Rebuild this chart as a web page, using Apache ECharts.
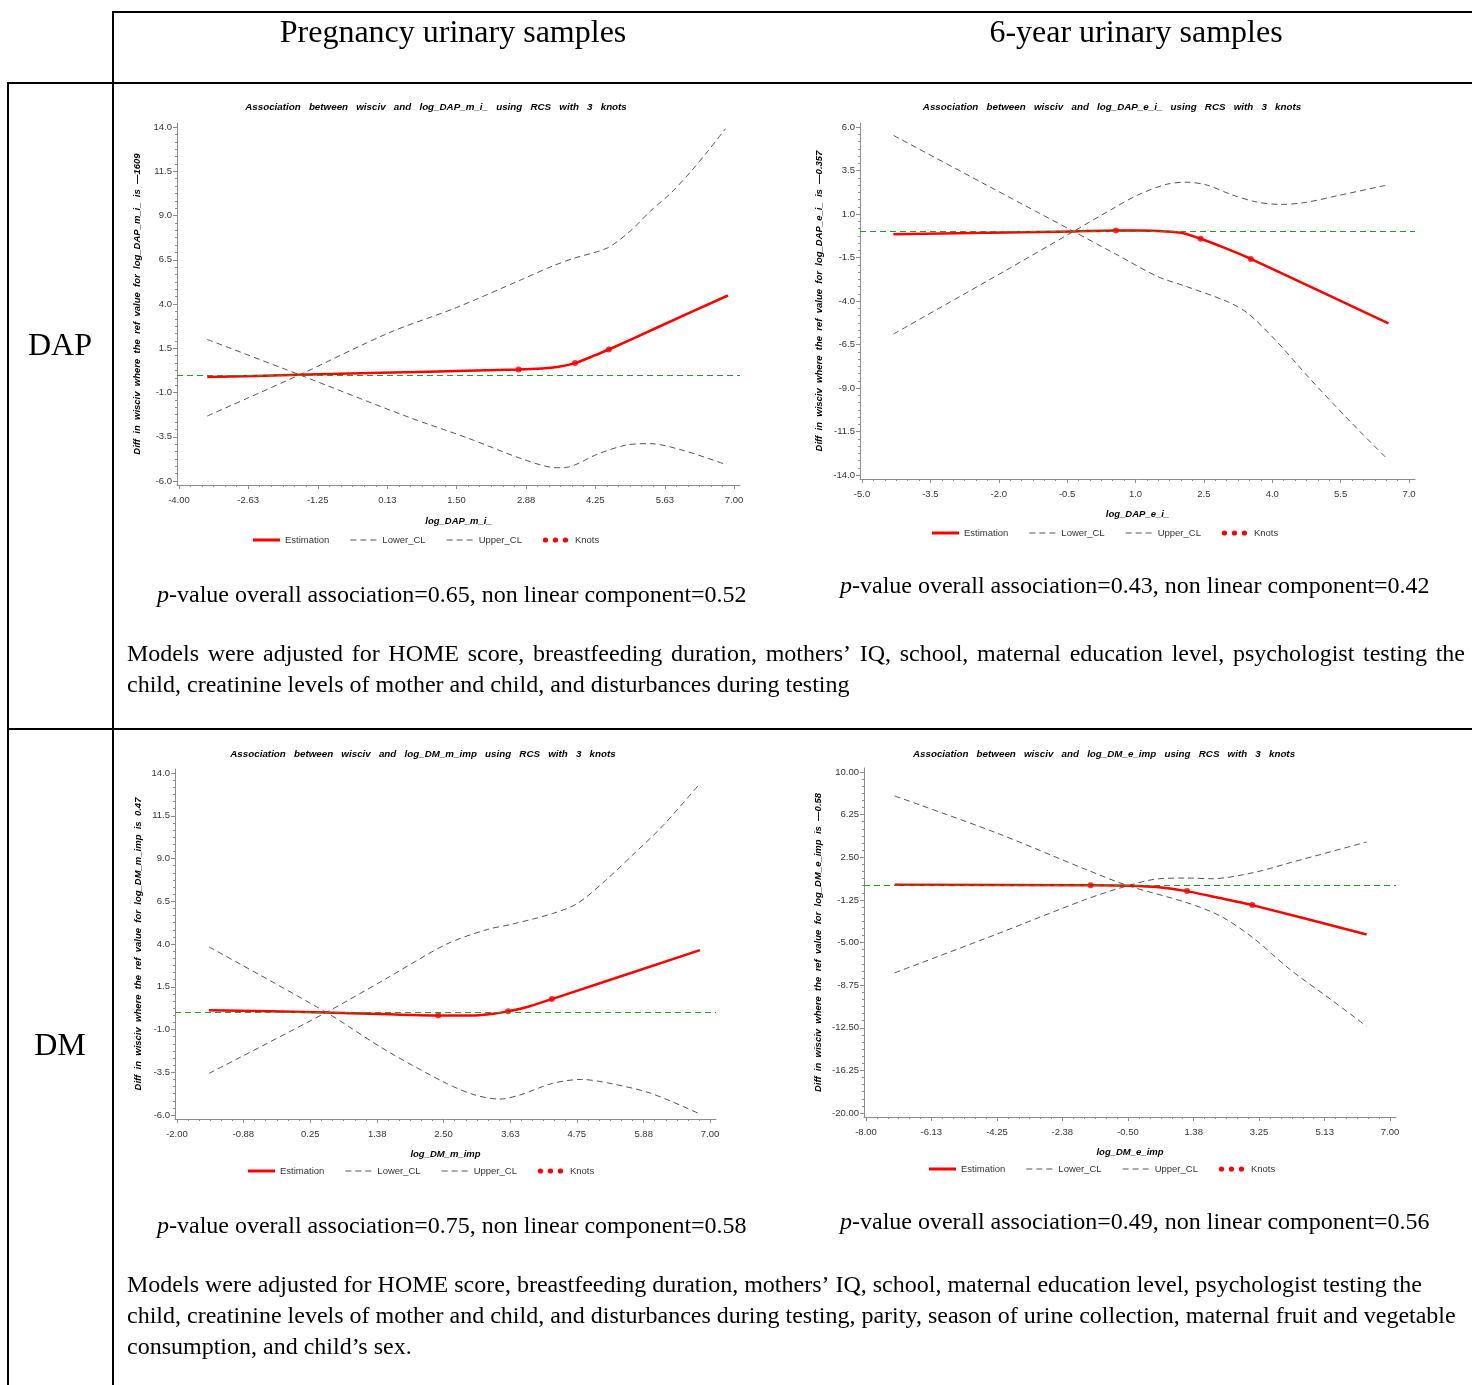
<!DOCTYPE html>
<html>
<head>
<meta charset="utf-8">
<script src="https://cdn.jsdelivr.net/npm/echarts@6/dist/echarts.min.js"></script>
<style>
html, body { margin: 0; padding: 0; background: #fff; }
#main { width: 1472px; height: 1385px; }
</style>
</head>
<body>
<div id="main"></div>
<script>
// ---- values ----

// DAP, pregnancy urinary samples (log_DAP_m_i_)
const dapmEstX = [-3.44, -1.61, 0, 1.5, 2.73, 3.2, 3.5, 3.85, 4.2, 4.52, 5.5, 6.88];
const dapmEstY = [-0.13, 0, 0.11, 0.21, 0.30, 0.36, 0.44, 0.66, 1.05, 1.43, 2.70, 4.48];
const dapmLoX = [-3.44, -1.61, 0.49, 1.70, 2.83, 3.48, 3.72, 4.29, 4.86, 5.34, 5.99, 6.83];
const dapmLoY = [2.0, 0, -2.33, -3.55, -4.78, -5.25, -5.21, -4.49, -3.97, -3.89, -4.27, -5.06];
const dapmUpX = [-3.44, -1.61, 0.16, 1.5, 2.79, 3.40, 3.81, 4.49, 4.94, 5.34, 5.75, 6.15, 6.48, 6.83];
const dapmUpY = [-2.33, 0, 2.37, 3.8, 5.38, 6.14, 6.57, 7.17, 8.11, 9.24, 10.27, 11.5, 12.63, 13.9];
const dapmKnotX = [2.73, 3.85, 4.52];
const dapmKnotY = [0.30, 0.66, 1.43];
const dapmXTicks = ['-4.00', '-2.63', '-1.25', '0.13', '1.50', '2.88', '4.25', '5.63', '7.00'];
const dapmYTicks = ['-6.0', '-3.5', '-1.0', '1.5', '4.0', '6.5', '9.0', '11.5', '14.0'];

// DAP, 6-year urinary samples (log_DAP_e_i_)
const dapeEstX = [-4.31, -0.36, 0.57, 1.04, 1.67, 2.03, 2.43, 2.93, 3.53, 6.55];
const dapeEstY = [-0.17, 0, 0.05, 0.05, 0.0, -0.09, -0.42, -0.92, -1.58, -5.29];
const dapeLoX = [-4.31, -2.36, -0.36, 0.60, 1.49, 2.12, 3.01, 3.46, 4.09, 4.81, 5.70, 6.51];
const dapeLoY = [5.52, 2.79, 0, -1.35, -2.6, -3.17, -4.03, -4.7, -6.3, -8.42, -10.9, -13.04];
const dapeUpX = [-4.31, -1.91, -0.36, 0.51, 1.04, 1.67, 2.12, 2.57, 3.10, 3.64, 4.18, 4.72, 5.43, 6.51];
const dapeUpY = [-5.9, -2.34, 0, 1.32, 2.08, 2.70, 2.83, 2.66, 2.12, 1.70, 1.55, 1.66, 2.05, 2.66];
const dapeKnotX = [0.57, 2.43, 3.53];
const dapeKnotY = [0.05, -0.42, -1.58];
const dapeXTicks = ['-5.0', '-3.5', '-2.0', '-0.5', '1.0', '2.5', '4.0', '5.5', '7.0'];
const dapeYTicks = ['-14.0', '-11.5', '-9.0', '-6.5', '-4.0', '-1.5', '1.0', '3.5', '6.0'];

// DM, pregnancy urinary samples (log_DM_m_imp)
const dmmEstX = [-1.46, 0.52, 2.41, 3.03, 3.31, 3.59, 3.93, 4.33, 6.83];
const dmmEstY = [0.13, 0, -0.18, -0.18, -0.10, 0.06, 0.33, 0.78, 3.64];
const dmmLoX = [-1.46, 0.52, 1.52, 2.55, 3.03, 3.45, 3.79, 4.34, 4.83, 5.31, 6.0, 6.83];
const dmmLoY = [3.83, 0, -2.2, -4.15, -4.83, -5.07, -4.83, -4.15, -3.92, -4.15, -4.73, -5.94];
const dmmUpX = [-1.46, 0.52, 1.52, 2.55, 3.24, 3.66, 4.34, 4.76, 5.24, 5.72, 6.21, 6.83];
const dmmUpY = [-3.57, 0, 1.95, 3.99, 4.85, 5.16, 5.78, 6.37, 7.73, 9.29, 10.94, 13.38];
const dmmKnotX = [2.41, 3.59, 4.33];
const dmmKnotY = [-0.18, 0.06, 0.78];
const dmmXTicks = ['-2.00', '-0.88', '0.25', '1.38', '2.50', '3.63', '4.75', '5.88', '7.00'];
const dmmYTicks = ['-6.0', '-3.5', '-1.0', '1.5', '4.0', '6.5', '9.0', '11.5', '14.0'];

// DM, 6-year urinary samples (log_DM_e_imp)
const dmeEstX = [-7.18, -1.57, -0.48, 0.39, 1.19, 2.09, 3.06, 6.33];
const dmeEstY = [0.08, 0.03, 0, -0.13, -0.48, -1.07, -1.71, -4.29];
const dmeLoX = [-7.18, -4.28, -1.71, -0.5, 1.19, 2.15, 3.08, 4.14, 5.31, 6.33];
const dmeLoY = [7.89, 4.66, 1.43, 0, -1.5, -2.68, -4.59, -7.38, -10.02, -12.37];
const dmeUpX = [-7.18, -4.28, -1.71, -0.5, 0.39, 1.21, 1.91, 3.08, 4.14, 6.33];
const dmeUpY = [-7.67, -4.29, -1.21, 0, 0.61, 0.67, 0.61, 1.14, 2.02, 3.84];
const dmeKnotX = [-1.57, 1.19, 3.06];
const dmeKnotY = [0.03, -0.48, -1.71];
const dmeXTicks = ['-8.00', '-6.13', '-4.25', '-2.38', '-0.50', '1.38', '3.25', '5.13', '7.00'];
const dmeYTicks = ['-20.00', '-16.25', '-12.50', '-8.75', '-5.00', '-1.25', '2.50', '6.25', '10.00'];

const legendNames = ['Estimation', 'Lower_CL', 'Upper_CL', 'Knots'];

// ---- panel text ----
const panels = [
  {
    est: [dapmEstX, dapmEstY], lo: [dapmLoX, dapmLoY], up: [dapmUpX, dapmUpY], knots: [dapmKnotX, dapmKnotY],
    xTicks: dapmXTicks, yTicks: dapmYTicks,
    title: 'Association between wisciv and log_DAP_m_i_ using RCS with 3 knots',
    xName: 'log_DAP_m_i_', yName: 'Diff in wisciv where the ref value for log_DAP_m_i_ is —1609'
  },
  {
    est: [dapeEstX, dapeEstY], lo: [dapeLoX, dapeLoY], up: [dapeUpX, dapeUpY], knots: [dapeKnotX, dapeKnotY],
    xTicks: dapeXTicks, yTicks: dapeYTicks,
    title: 'Association between wisciv and log_DAP_e_i_ using RCS with 3 knots',
    xName: 'log_DAP_e_i_', yName: 'Diff in wisciv where the ref value for log_DAP_e_i_ is —0.357'
  },
  {
    est: [dmmEstX, dmmEstY], lo: [dmmLoX, dmmLoY], up: [dmmUpX, dmmUpY], knots: [dmmKnotX, dmmKnotY],
    xTicks: dmmXTicks, yTicks: dmmYTicks,
    title: 'Association between wisciv and log_DM_m_imp using RCS with 3 knots',
    xName: 'log_DM_m_imp', yName: 'Diff in wisciv where the ref value for log_DM_m_imp is 0.47'
  },
  {
    est: [dmeEstX, dmeEstY], lo: [dmeLoX, dmeLoY], up: [dmeUpX, dmeUpY], knots: [dmeKnotX, dmeKnotY],
    xTicks: dmeXTicks, yTicks: dmeYTicks,
    title: 'Association between wisciv and log_DM_e_imp using RCS with 3 knots',
    xName: 'log_DM_e_imp', yName: 'Diff in wisciv where the ref value for log_DM_e_imp is —0.58'
  }
];

// pixel positions of first/last tick of every panel, plus name gaps
const layout = [
  { x0: 179, x1: 734, y0: 127, y1: 481, yGap: 35, xGap: 31, title: [436, 107], legend: [253, 540] },
  { x0: 862, x1: 1409, y0: 127, y1: 475, yGap: 36, xGap: 30, title: [1112, 107], legend: [932, 533] },
  { x0: 177, x1: 710, y0: 773, y1: 1115, yGap: 32, xGap: 30, title: [423, 754], legend: [248, 1171] },
  { x0: 866, x1: 1390, y0: 772, y1: 1113, yGap: 41, xGap: 30, title: [1104, 754], legend: [929, 1169] }
];

const SANS = 'Liberation Sans';
const SERIF = '"Liberation Serif"';
const AXIS_GRAY = '#8c8c8c';
const CL_GRAY = '#555';
const RED = '#ff0000';
const GREEN = '#249a24';
const LEGEND_FONT = '9.5px "Liberation Sans"';

const zip = (xs, ys) => xs.map((x, i) => [x, ys[i]]);
const spaced = (s, n) => s.split(' ').join(' '.repeat(n));

function minorTicks(vals, n) {
  const out = [];
  for (let i = 0; i < vals.length - 1; i++) {
    for (let k = 1; k < n; k++) out.push(vals[i] + (vals[i + 1] - vals[i]) * k / n);
  }
  return out;
}

function labelFmt(ticks) {
  const nums = ticks.map(Number);
  return v => {
    const i = nums.findIndex(n => Math.abs(n - v) < 1e-6);
    return i < 0 ? '' : ticks[i];
  };
}

const measure = document.createElement('canvas').getContext('2d');
function textWidth(s, font) {
  measure.font = font;
  return measure.measureText(s).width;
}

// SAS-style legend row: solid red line, two dashed lines, three dots
function legendRow(x, y) {
  const els = [];
  legendNames.forEach((name, k) => {
    if (k === 0) {
      els.push({ type: 'line', shape: { x1: x, y1: y, x2: x + 27, y2: y }, style: { stroke: RED, lineWidth: 3 } });
    } else if (k < 3) {
      els.push({ type: 'line', shape: { x1: x, y1: y, x2: x + 27, y2: y }, style: { stroke: CL_GRAY, lineWidth: 1, lineDash: [6, 4] } });
    } else {
      [2.5, 12.5, 22.5].forEach(dx => els.push({
        type: 'circle', shape: { cx: x + dx, cy: y, r: 2.6 }, style: { fill: RED }
      }));
    }
    els.push({
      type: 'text', x: x + 32, y,
      style: { text: name, font: LEGEND_FONT, fill: '#333', verticalAlign: 'middle' }
    });
    x += 32 + textWidth(name, LEGEND_FONT) + 21;
  });
  return els;
}

const grid = [], xAxis = [], yAxis = [], series = [], graphic = [];

panels.forEach((p, i) => {
  const L = layout[i];
  const xv = p.xTicks.map(Number);
  const yv = p.yTicks.map(Number);
  const ppx = (L.x1 - L.x0) / (xv[xv.length - 1] - xv[0]);
  const ppy = (L.y1 - L.y0) / (yv[yv.length - 1] - yv[0]);
  const padL = 2, padR = 6, padT = 4, padB = 4;

  grid.push({
    left: L.x0 - padL, top: L.y0 - padT,
    width: (L.x1 + padR) - (L.x0 - padL), height: (L.y1 + padB) - (L.y0 - padT)
  });

  const xMin = xv[0] - padL / ppx, xMax = xv[xv.length - 1] + padR / ppx;
  const yMin = yv[0] - padB / ppy, yMax = yv[yv.length - 1] + padT / ppy;
  const lblStyle = { fontSize: 9.5, color: '#333', fontFamily: SANS };
  const nameStyle = { fontSize: 9.5, color: '#000', fontFamily: SANS, fontWeight: 'bold', fontStyle: 'italic' };

  xAxis.push({
    type: 'value', gridIndex: i, position: 'bottom', min: xMin, max: xMax,
    axisLine: { show: true, onZero: false, lineStyle: { color: AXIS_GRAY, width: 1 } },
    axisTick: { show: true, customValues: xv, length: 4, lineStyle: { color: AXIS_GRAY } },
    axisLabel: { customValues: xv, formatter: labelFmt(p.xTicks), margin: 10, ...lblStyle },
    splitLine: { show: false },
    name: p.xName, nameLocation: 'middle', nameGap: L.xGap, nameTextStyle: nameStyle
  });
  xAxis.push({
    type: 'value', gridIndex: i, position: 'bottom', min: xMin, max: xMax,
    axisLine: { show: false, onZero: false },
    axisTick: { show: true, customValues: minorTicks(xv, 6), length: 2, lineStyle: { color: AXIS_GRAY } },
    axisLabel: { show: false }, splitLine: { show: false }
  });
  yAxis.push({
    type: 'value', gridIndex: i, position: 'left', min: yMin, max: yMax,
    axisLine: { show: true, onZero: false, lineStyle: { color: AXIS_GRAY, width: 1 } },
    axisTick: { show: true, customValues: yv, length: 4, lineStyle: { color: AXIS_GRAY } },
    axisLabel: { customValues: yv, formatter: labelFmt(p.yTicks), margin: 5, ...lblStyle },
    splitLine: { show: false },
    name: spaced(p.yName, 2), nameLocation: 'middle', nameGap: L.yGap, nameTextStyle: nameStyle
  });
  yAxis.push({
    type: 'value', gridIndex: i, position: 'left', min: yMin, max: yMax,
    axisLine: { show: false, onZero: false },
    axisTick: { show: true, customValues: minorTicks(yv, 6), length: 2, lineStyle: { color: AXIS_GRAY } },
    axisLabel: { show: false }, splitLine: { show: false }
  });

  const ax = { xAxisIndex: 2 * i, yAxisIndex: 2 * i };
  series.push({
    name: 'Lower_CL', type: 'line', ...ax, data: zip(...p.lo), symbol: 'none', smooth: 0.3,
    itemStyle: { color: CL_GRAY },
    lineStyle: { color: CL_GRAY, width: 1, type: [6, 4] },
    markLine: {
      silent: true, symbol: 'none', label: { show: false },
      lineStyle: { color: GREEN, width: 1, type: [6, 4] },
      data: [{ yAxis: 0 }]
    }
  });
  series.push({
    name: 'Upper_CL', type: 'line', ...ax, data: zip(...p.up), symbol: 'none', smooth: 0.3,
    itemStyle: { color: CL_GRAY },
    lineStyle: { color: CL_GRAY, width: 1, type: [6, 4] }
  });
  series.push({
    name: 'Estimation', type: 'line', ...ax, data: zip(...p.est), symbol: 'none', smooth: 0.2,
    itemStyle: { color: RED },
    lineStyle: { color: RED, width: 2.5 }
  });
  series.push({
    name: 'Knots', type: 'scatter', ...ax, data: zip(...p.knots),
    symbol: 'circle', symbolSize: 6, itemStyle: { color: RED }
  });

  graphic.push(...legendRow(L.legend[0], L.legend[1]));
  graphic.push({
    type: 'text', x: L.title[0], y: L.title[1],
    style: {
      text: spaced(p.title, 3), align: 'center', verticalAlign: 'middle', fill: '#000',
      font: 'italic bold 9.8px "Liberation Sans"'
    }
  });
});

// ---- table frame and surrounding text ----
const serif24 = '24px ' + SERIF;
const line = (x1, y1, x2, y2) => ({
  type: 'line', shape: { x1, y1, x2, y2 }, style: { stroke: '#000', lineWidth: 2 }
});
graphic.push(
  line(112, 12, 1472, 12),
  line(113, 11, 113, 1385),
  line(7, 83, 1472, 83),
  line(8, 82, 8, 1385),
  line(7, 729, 1472, 729)
);

const txt = (text, x, y, font, align) => ({
  type: 'text', x, y,
  style: { text, font, fill: '#000', align: align || 'left', verticalAlign: 'middle' }
});
graphic.push(
  txt('Pregnancy urinary samples', 453, 34, '32px ' + SERIF, 'center'),
  txt('6-year urinary samples', 1136, 34, '32px ' + SERIF, 'center'),
  txt('DAP', 60, 347, '32px ' + SERIF, 'center'),
  txt('DM', 60, 1047, '32px ' + SERIF, 'center')
);

const pText = (rest, x, y) => ({
  type: 'text', x, y,
  style: {
    text: '{i|p}' + rest, fill: '#000', verticalAlign: 'middle', font: serif24,
    rich: { i: { fontStyle: 'italic', fontSize: 24, fontFamily: 'Liberation Serif' } }
  }
});
graphic.push(
  pText('-value overall association=0.65, non linear component=0.52', 157, 596),
  pText('-value overall association=0.43, non linear component=0.42', 840, 587),
  pText('-value overall association=0.75, non linear component=0.58', 157, 1227),
  pText('-value overall association=0.49, non linear component=0.56', 840, 1223)
);

// justified first line of the DAP note
function justify(text, x0, x1, y, font) {
  const words = text.split(' ');
  const widths = words.map(w => textWidth(w, font));
  const total = widths.reduce((a, b) => a + b, 0);
  const gap = (x1 - x0 - total) / (words.length - 1);
  let x = x0;
  return words.map((w, k) => {
    const el = txt(w, x, y, font);
    x += widths[k] + gap;
    return el;
  });
}
graphic.push(
  ...justify('Models were adjusted for HOME score, breastfeeding duration, mothers’ IQ, school, maternal education level, psychologist testing the', 127, 1465, 655, serif24),
  txt('child, creatinine levels of mother and child, and disturbances during testing', 127, 686, serif24),
  txt('Models were adjusted for HOME score, breastfeeding duration, mothers’ IQ, school, maternal education level, psychologist testing the', 127, 1286, serif24),
  txt('child, creatinine levels of mother and child, and disturbances during testing, parity, season of urine collection, maternal fruit and vegetable', 127, 1317, serif24),
  txt('consumption, and child’s sex.', 127, 1348, serif24)
);

const chart = echarts.init(document.getElementById('main'));
chart.setOption({
  animation: false,
  backgroundColor: '#fff',
  grid, xAxis, yAxis, series, graphic
});
</script>
</body>
</html>
